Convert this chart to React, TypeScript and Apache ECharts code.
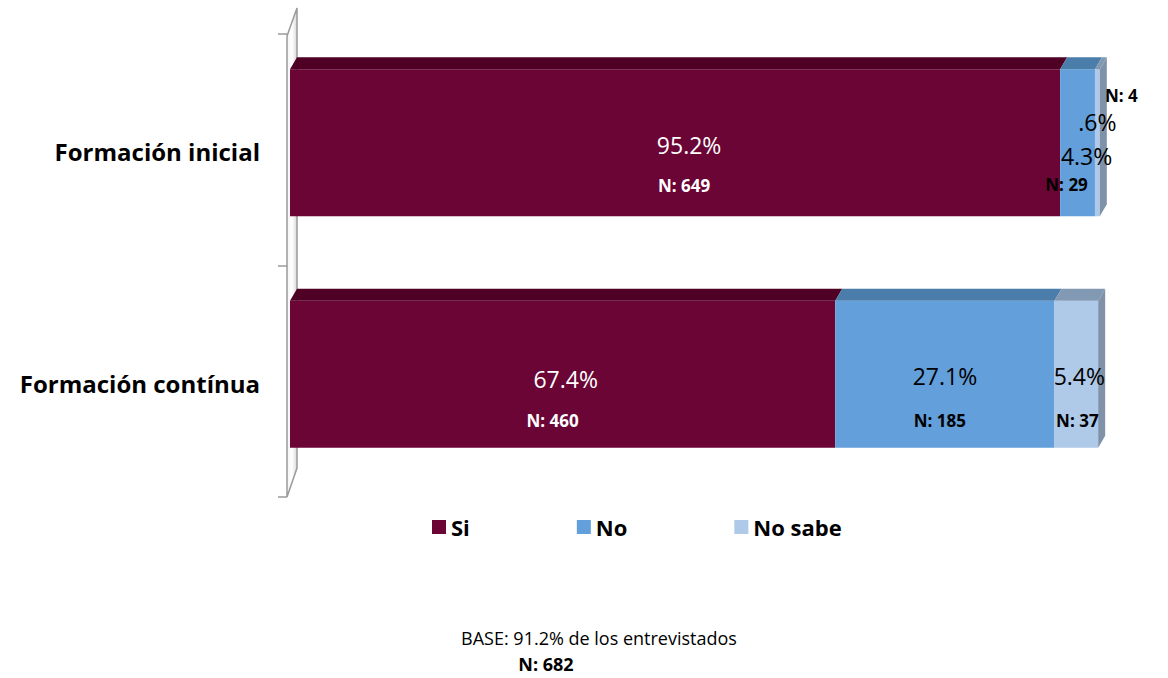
import React, { useEffect, useRef } from "react";
import * as echarts from "echarts";

const categories = ["Formación inicial", "Formación contínua"];
const seriesNames = ["Si", "No", "No sabe"];
const siPct = [95.2, 67.4];
const noPct = [4.3, 27.1];
const nsPct = [0.6, 5.4];
const siN = [649, 460];
const noN = [29, 185];
const nsN = [4, 37];
const pctLabels = [["95.2%", "67.4%"], ["4.3%", "27.1%"], [".6%", "5.4%"]];
const baseText = "BASE: 91.2% de los entrevistados";
const baseN = "N: 682";

const FONT = "'Open Sans', 'Noto Sans', sans-serif";
const frontColors = ["#6B0535", "#629FDB", "#AFC9E8"];
const topColors = ["#4E0124", "#4A7DAA", "#8299B3"];
const sideColors = ["#4E0124", "#4A7DAA", "#7F92A8"];
const textColors = ["#FFFFFF", "#000000", "#000000"];

// label offsets [series][category] -> [pctDx, pctDy, nDx, nDy]
const labelOffsets = [
  [[14, 2, 9, 43], [3, 5, -10, 46]],
  [[9, 13, -11, 42], [0, 2, -5, 46]],
  [[0, -21, 24, -47], [3, 2, 1, 46]],
];

export default function App() {
  const ref = useRef<HTMLDivElement>(null);
  useEffect(() => {
    if (!ref.current) return;
    const chart = echarts.init(ref.current, null, { renderer: "svg" });
    const pcts = [siPct, noPct, nsPct];
    const ns = [siN, noN, nsN];
    const DX = 7;
    const DY = 12;
    const series = seriesNames.map((name, s) => {
      const data = categories.map((_, i) => {
        let start = 0;
        for (let k = 0; k < s; k++) start += pcts[k][i];
        return [i, start, start + pcts[s][i], pcts[s][i], ns[s][i]];
      });
      return {
        type: "custom",
        name,
        itemStyle: { color: frontColors[s] },
        encode: { x: [1, 2], y: 0 },
        data,
        renderItem: (params: any, api: any) => {
          const cat = api.value(0);
          const start = api.value(1);
          const end = api.value(2);
          const n = api.value(4);
          const p0 = api.coord([start, cat]);
          const p1 = api.coord([end, cat]);
          const band = api.size([0, 1])[1];
          const h = band * 0.635;
          const x0 = p0[0];
          const x1 = p1[0];
          const yT = p0[1] - h / 2;
          const yB = p0[1] + h / 2;
          const cx = (x0 + x1) / 2;
          const cy = p0[1];
          const off = labelOffsets[s][cat];
          const children: any[] = [
            {
              type: "rect",
              shape: { x: x0, y: yT, width: x1 - x0, height: h },
              style: { fill: frontColors[s] },
            },
            {
              type: "polygon",
              shape: {
                points: [
                  [x0, yT],
                  [x1, yT],
                  [x1 + DX, yT - DY],
                  [x0 + DX, yT - DY],
                ],
              },
              style: { fill: topColors[s] },
            },
          ];
          if (s === seriesNames.length - 1) {
            children.push({
              type: "polygon",
              shape: {
                points: [
                  [x1, yT],
                  [x1 + DX, yT - DY],
                  [x1 + DX, yB - DY],
                  [x1, yB],
                ],
              },
              style: { fill: sideColors[s] },
            });
          }
          children.push({
            type: "text",
            z2: 100,
            x: cx + off[0],
            y: cy + off[1],
            style: {
              text: pctLabels[s][cat],
              fill: textColors[s],
              fontSize: 23,
              fontFamily: FONT,
              align: "center",
              verticalAlign: "middle",
            },
          });
          children.push({
            type: "text",
            z2: 100,
            x: cx + off[2],
            y: cy + off[3],
            style: {
              text: "N: " + n,
              fill: textColors[s],
              fontSize: 17,
              fontWeight: "bold",
              fontFamily: FONT,
              align: "center",
              verticalAlign: "middle",
            },
          });
          return { type: "group", children };
        },
      };
    });

    chart.setOption({
      animation: false,
      textStyle: { fontFamily: FONT },
      grid: { left: 290, right: 69, top: 27, height: 463 },
      xAxis: {
        type: "value",
        min: 0,
        max: 100,
        show: false,
      },
      yAxis: {
        type: "category",
        data: categories,
        inverse: true,
        axisLine: { show: false },
        axisTick: { show: false },
        axisLabel: {
          margin: 30,
          fontSize: 24,
          fontWeight: "bold",
          color: "#000",
          fontFamily: FONT,
          verticalAlign: "top",
          lineHeight: 18,
        },
      },
      legend: {
        left: 427,
        top: 511,
        itemGap: 107,
        itemWidth: 14,
        itemHeight: 14,
        icon: "rect",
        textStyle: { fontSize: 22, fontWeight: "bold", color: "#000", fontFamily: FONT },
        data: seriesNames,
      },
      graphic: [
        {
          type: "polygon",
          z: -1,
          shape: { points: [[287, 36], [297, 8], [297, 468], [287, 497]] },
          style: {
            fill: new echarts.graphic.LinearGradient(0, 0, 1, 0, [
              { offset: 0, color: "#f4f4f4" },
              { offset: 0.5, color: "#ffffff" },
              { offset: 1, color: "#d8d8d8" },
            ]),
            stroke: "#9a9a9a",
            lineWidth: 1.5,
          },
        },
        { type: "line", shape: { x1: 278, y1: 34, x2: 287, y2: 34 }, style: { stroke: "#9a9a9a", lineWidth: 1.5 } },
        { type: "line", shape: { x1: 278, y1: 266, x2: 287, y2: 266 }, style: { stroke: "#9a9a9a", lineWidth: 1.5 } },
        { type: "line", shape: { x1: 278, y1: 497, x2: 287, y2: 497 }, style: { stroke: "#9a9a9a", lineWidth: 1.5 } },
        {
          type: "text",
          x: 599,
          y: 638,
          style: {
            text: baseText,
            fontSize: 18,
            fontFamily: FONT,
            fill: "#000",
            align: "center",
            verticalAlign: "middle",
          },
        },
        {
          type: "text",
          x: 546,
          y: 664,
          style: {
            text: baseN,
            fontSize: 18,
            fontWeight: "bold",
            fontFamily: FONT,
            fill: "#000",
            align: "center",
            verticalAlign: "middle",
          },
        },
      ],
      series,
    });
    return () => chart.dispose();
  }, []);
  return (
    <div
      ref={ref}
      style={{ position: "absolute", left: 0, top: 0, width: 1168, height: 678 }}
    />
  );
}
